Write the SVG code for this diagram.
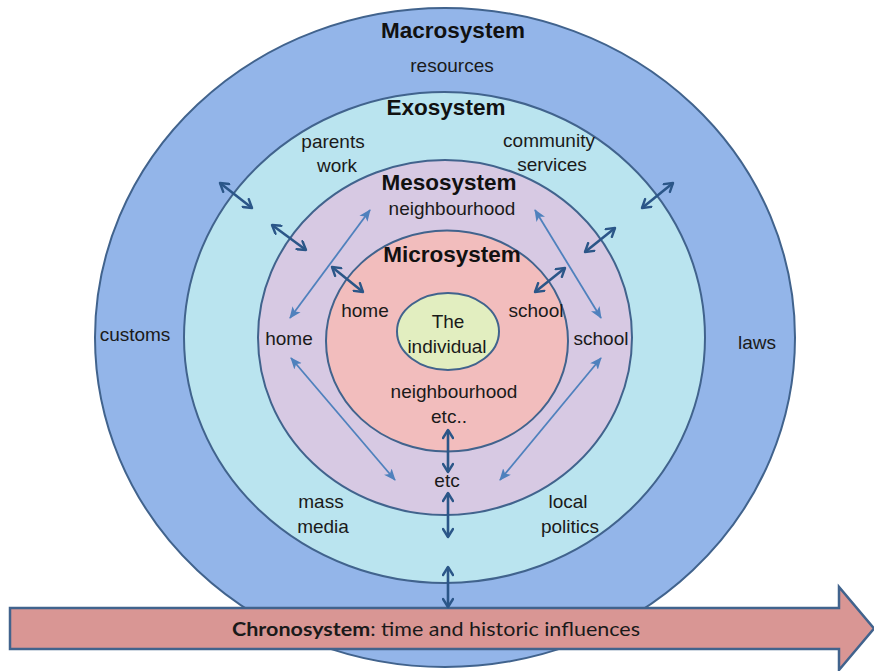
<svg xmlns="http://www.w3.org/2000/svg" width="874" height="671" viewBox="0 0 874 671">
  <style>
    .ring { stroke: #41638d; stroke-width: 2; }
    .lbl { font-family: "Liberation Sans", Arial, sans-serif; font-size: 19px; fill: #1a1a1a; text-anchor: middle; }
    .ttl { font-family: "Liberation Sans", Arial, sans-serif; font-size: 22.5px; font-weight: bold; fill: #111; text-anchor: middle; }
    .dark { stroke: #2b5688; stroke-width: 2.6; fill: none; marker-start: url(#chev); marker-end: url(#chev); }
    .light { stroke: #4f81bd; stroke-width: 1.8; fill: none; marker-start: url(#tri); marker-end: url(#tri); }
  </style>
  <defs>
    <marker id="chev" viewBox="0 0 12 12" refX="10" refY="6" markerWidth="12" markerHeight="12" markerUnits="userSpaceOnUse" orient="auto-start-reverse">
      <path d="M2,1 L10,6 L2,11" fill="none" stroke="#2b5688" stroke-width="2.4" stroke-linecap="round" stroke-linejoin="round"/>
    </marker>
    <marker id="tri" viewBox="0 0 12 12" refX="11" refY="6" markerWidth="12" markerHeight="12" markerUnits="userSpaceOnUse" orient="auto-start-reverse">
      <path d="M0,1 L12,6 L0,11 L3,6 Z" fill="#4f81bd"/>
    </marker>
  </defs>

  <rect width="874" height="671" fill="#ffffff"/>

  <!-- nested system rings -->
  <g id="macrosystem">
    <ellipse class="ring" cx="445" cy="337.5" rx="350" ry="329.5" fill="#93b5e9"/>
    <text class="ttl" x="453" y="38">Macrosystem</text>
    <text class="lbl" x="452" y="72">resources</text>
    <text class="lbl" x="135" y="341">customs</text>
    <text class="lbl" x="757" y="349">laws</text>
  </g>
  <g id="exosystem">
    <ellipse class="ring" cx="444.5" cy="337.5" rx="260.5" ry="245.5" fill="#bae4ef"/>
    <text class="ttl" x="446" y="115">Exosystem</text>
    <text class="lbl" x="333" y="148">parents</text>
    <text class="lbl" x="337" y="172">work</text>
    <text class="lbl" x="549" y="147">community</text>
    <text class="lbl" x="552" y="171">services</text>
    <text class="lbl" x="321" y="508">mass</text>
    <text class="lbl" x="323" y="533">media</text>
    <text class="lbl" x="568" y="508">local</text>
    <text class="lbl" x="570" y="533">politics</text>
  </g>
  <g id="mesosystem">
    <ellipse class="ring" cx="445" cy="337.5" rx="187" ry="177.5" fill="#d7c9e3"/>
    <text class="ttl" x="449" y="190">Mesosystem</text>
    <text class="lbl" x="452" y="215">neighbourhood</text>
    <text class="lbl" x="289" y="345">home</text>
    <text class="lbl" x="601" y="345">school</text>
    <text class="lbl" x="447" y="487">etc</text>
  </g>
  <g id="microsystem">
    <ellipse class="ring" cx="447" cy="341" rx="121" ry="110.5" fill="#f2bdbd"/>
    <text class="ttl" x="452" y="262">Microsystem</text>
    <text class="lbl" x="365" y="317">home</text>
    <text class="lbl" x="536" y="317">school</text>
    <text class="lbl" x="454" y="398">neighbourhood</text>
    <text class="lbl" x="449" y="423">etc..</text>
  </g>
  <g id="individual">
    <ellipse class="ring" cx="448" cy="331.5" rx="51" ry="38.5" fill="#e2eec0"/>
    <text class="lbl" x="448" y="328">The</text>
    <text class="lbl" x="447" y="353">individual</text>
  </g>

  <!-- time axis -->
  <g id="chronosystem">
    <path d="M10,608 L839,608 L839,587 L874,628.5 L839,670 L839,649 L10,649 Z" fill="#d99694" stroke="#41638d" stroke-width="2.5" stroke-linejoin="miter"/>
    <text x="436" y="636" font-family="Lato, 'Open Sans', sans-serif" font-size="19" fill="#1a1a1a" text-anchor="middle" textLength="408" lengthAdjust="spacingAndGlyphs"><tspan font-weight="bold">Chronosystem</tspan>: time and historic influences</text>
  </g>

  <!-- interactions between systems -->
  <g id="connectors">
    <line class="dark" x1="220" y1="183" x2="252" y2="208"/>
    <line class="dark" x1="272" y1="225" x2="306" y2="250"/>
    <line class="dark" x1="332" y1="267" x2="363" y2="292"/>
    <line class="dark" x1="565" y1="268" x2="535" y2="292"/>
    <line class="dark" x1="615" y1="228" x2="585" y2="252"/>
    <line class="dark" x1="673" y1="183" x2="642" y2="208"/>
    <line class="dark" x1="448" y1="430" x2="448" y2="472"/>
    <line class="dark" x1="448" y1="493" x2="448" y2="537"/>
    <line class="dark" x1="448" y1="567" x2="448" y2="607"/>
    <line class="light" x1="370" y1="210" x2="290" y2="318"/>
    <line class="light" x1="535" y1="210" x2="601" y2="318"/>
    <line class="light" x1="291" y1="358" x2="395" y2="480"/>
    <line class="light" x1="601" y1="358" x2="500" y2="480"/>
  </g>
</svg>
